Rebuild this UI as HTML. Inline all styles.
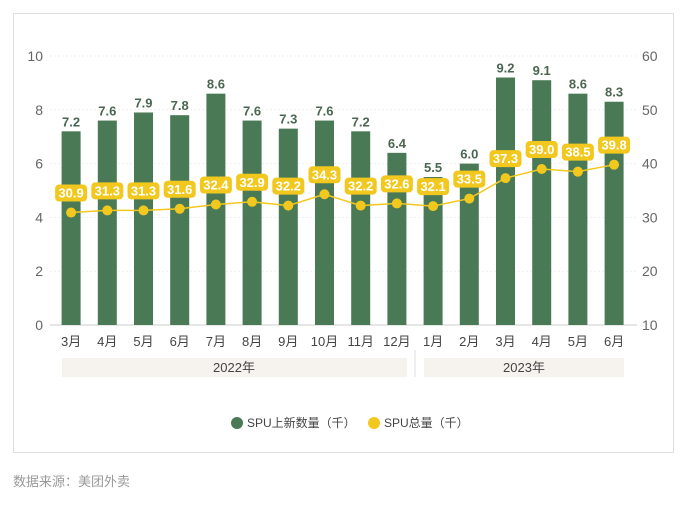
<!DOCTYPE html>
<html><head><meta charset="utf-8">
<style>
html,body{margin:0;padding:0;background:#fff;width:687px;height:508px;overflow:hidden;font-family:"Liberation Sans","Noto Sans CJK SC",sans-serif;}
svg text{font-family:"Liberation Sans","Noto Sans CJK SC",sans-serif;}
</style></head>
<body>
<svg id="chart" width="687" height="508" xmlns="http://www.w3.org/2000/svg">
<rect x="13.5" y="13.5" width="660" height="439" fill="#fff" stroke="#ddd"/>
<g id="grid"></g><g id="bars"></g><g id="line"></g><g id="axes"></g>
<rect x="62" y="358" width="345" height="19" fill="#f6f3ef"/>
<text x="234" y="372" font-size="13" fill="#444" text-anchor="middle">2022年</text>
<line x1="415" y1="350" x2="415" y2="377" stroke="#ddd"/>
<rect x="424" y="358" width="200" height="19" fill="#f6f3ef"/>
<text x="524" y="372" font-size="13" fill="#444" text-anchor="middle">2023年</text>
<g>
<circle cx="237" cy="423" r="6" fill="#4a7a55"/>
<text x="247" y="427" font-size="12" fill="#444">SPU上新数量（千）</text>
<circle cx="374" cy="423" r="6" fill="#f2c81f"/>
<text x="384" y="427" font-size="12" fill="#444">SPU总量（千）</text>
</g>
<text x="13" y="486" font-size="13" fill="#999">数据来源：美团外卖</text>
</svg>
<script>
const categories=["3月","4月","5月","6月","7月","8月","9月","10月","11月","12月","1月","2月","3月","4月","5月","6月"];
const newSpu=[7.2,7.6,7.9,7.8,8.6,7.6,7.3,7.6,7.2,6.4,5.5,6.0,9.2,9.1,8.6,8.3];
const totalSpu=[30.9,31.3,31.3,31.6,32.4,32.9,32.2,34.3,32.2,32.6,32.1,33.5,37.3,39.0,38.5,39.8];
const leftTicks=[0,2,4,6,8,10];
const rightTicks=[10,20,30,40,50,60];
const NS="http://www.w3.org/2000/svg";
const x0=53,step=36.2,yTop=56,yBot=325;
const xC=i=>x0+step*(i+0.5);
const yL=v=>yBot-(v/10)*(yBot-yTop);
const yR=v=>yBot-((v-10)/50)*(yBot-yTop);
function mk(p,tag,a){const e=document.createElementNS(NS,tag);for(const k in a)e.setAttribute(k,a[k]);p.appendChild(e);return e;}
const grid=document.getElementById('grid'),axes=document.getElementById('axes'),bars=document.getElementById('bars'),line=document.getElementById('line');
leftTicks.forEach(t=>{
 const g=mk(grid,'line',{x1:50,x2:637,y1:yL(t),y2:yL(t),stroke:t===0?'#ccc':'#eee','stroke-dasharray':t===0?'':'2,2'});
 
 
 const l=mk(axes,'text',{x:43,y:yL(t)+5,'font-size':14,fill:'#666','text-anchor':'end'});l.textContent=t;
 
 
});
rightTicks.forEach(t=>{
 const l=mk(axes,'text',{x:642,y:yR(t)+5,'font-size':14,fill:'#666'});l.textContent=t;
 
 
});
categories.forEach((c,i)=>{
 const l=mk(axes,'text',{x:xC(i),y:346,'font-size':13,fill:'#444','text-anchor':'middle'});l.textContent=c;
 
 
});
newSpu.forEach((v,i)=>{
 const b=mk(bars,'rect',{x:xC(i)-9.5,y:yL(v),width:19,height:yBot-yL(v),fill:'#4a7a55'});
 
 
 const t=mk(bars,'text',{x:xC(i),y:yL(v)-5,'font-size':13,'font-weight':'bold',fill:'#4a6650','text-anchor':'middle'});t.textContent=v.toFixed(1);
 
 
});
const pl=mk(line,'polyline',{points:totalSpu.map((v,i)=>xC(i)+','+yR(v)).join(' '),fill:'none',stroke:'#f2c81f','stroke-width':1.5});


totalSpu.forEach((v,i)=>{
 const c=mk(line,'circle',{cx:xC(i),cy:yR(v),r:5,fill:'#f2c81f'});
 
 
 const r=mk(line,'rect',{x:xC(i)-16,y:yR(v)-28,width:32,height:17,rx:4,fill:'#f2c81f'});
 
 
 const t=mk(line,'text',{x:xC(i),y:yR(v)-15,'font-size':13,'font-weight':'bold',fill:'#fff','text-anchor':'middle'});t.textContent=v.toFixed(1);
 
 
});
</script>
</body></html>
